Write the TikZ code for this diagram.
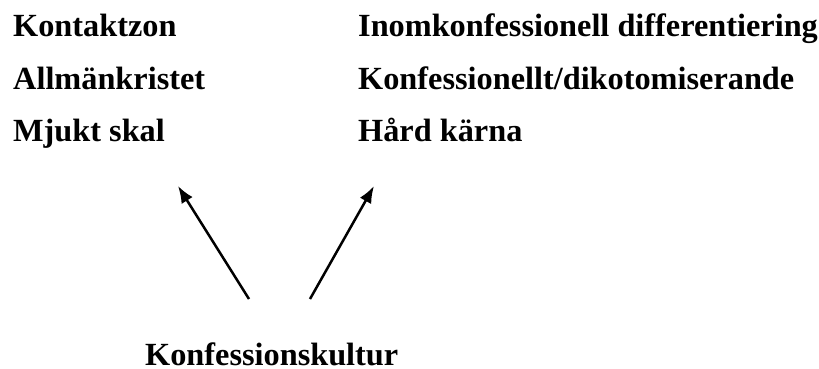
\documentclass[tikz,border=0pt]{standalone}
\usepackage{fontspec}
\setmainfont{Liberation Serif}
\usetikzlibrary{arrows.meta}
\begin{document}
\begin{tikzpicture}[x=1pt,y=-1pt,
  lbl/.style={anchor=base west,inner sep=0pt,font=\fontsize{32.3}{36}\selectfont\bfseries},
  arr/.style={-{Latex[length=17pt,width=13pt]},line width=2.5pt}]
\useasboundingbox (0,0) rectangle (819,369);
\node[lbl] (k1) at (13,37) {Kontaktzon};
\node[lbl] (k2) at (13,89) {Allmänkristet};
\node[lbl] (k3) at (13,141) {Mjukt skal};
\node[lbl] (h1) at (358,37) {Inomkonfessionell differentiering};
\node[lbl] (h2) at (358,89) {Konfessionellt/dikotomiserande};
\node[lbl] (h3) at (358,141) {Hård kärna};
\node[lbl] (kk) at (145,365.5) {Konfessionskultur};
\coordinate (lt) at (249,299);
\coordinate (lh) at (178,186);
\coordinate (rt) at (310,299);
\coordinate (rh) at (374,186);
\draw[arr] (lt) -- (lh);
\draw[arr] (rt) -- (rh);
\end{tikzpicture}
\end{document}
